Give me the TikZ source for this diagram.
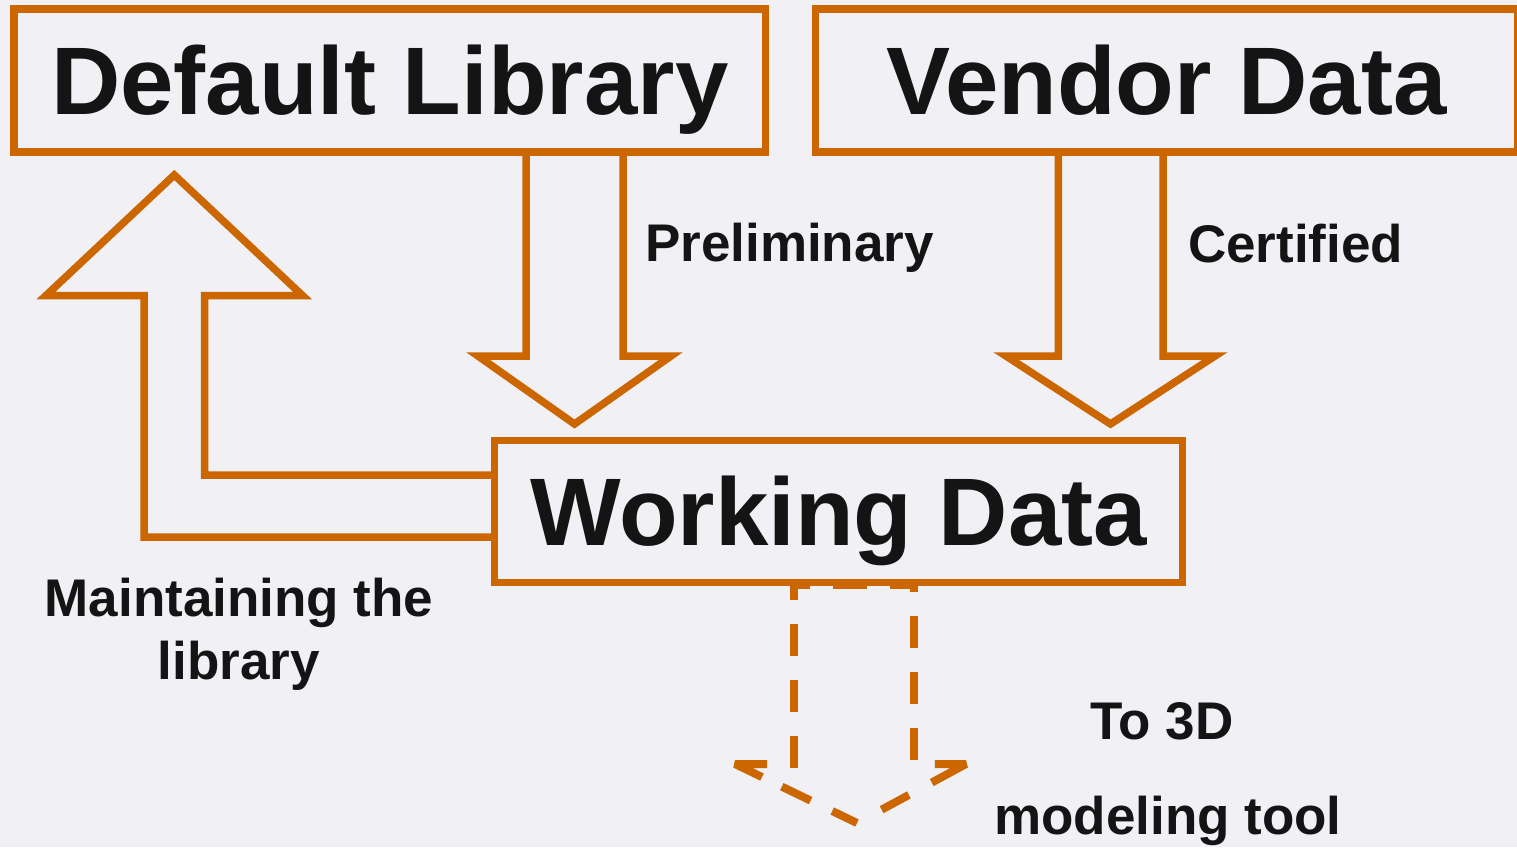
\documentclass[tikz,border=0pt]{standalone}
\usepackage{fontspec}
\setmainfont{Liberation Sans}
\usetikzlibrary{calc}
\definecolor{bgc}{RGB}{240,240,245}
\definecolor{orng}{RGB}{204,102,0}
\definecolor{ink}{RGB}{20,20,20}
\begin{document}
\begin{tikzpicture}[x=1pt,y=-1pt,
  box/.style={draw=orng, line width=7.5pt, inner sep=0pt, outer sep=0pt, text=ink,
    font=\bfseries\fontsize{96}{96}\selectfont, text height=68.7pt, text depth=0pt},
  blockarrow/.style={draw=orng, line width=7.5pt, line join=miter},
  dashline/.style={draw=orng, line width=8pt, line join=bevel},
  lbl/.style={text=ink, font=\bfseries\fontsize{53}{63}\selectfont, inner sep=0pt}]
\fill[bgc] (0,0) rectangle (1517,847);
\useasboundingbox (0,0) rectangle (1517,847);

% dashed arrow to 3D tool (drawn piece by piece to place its dashes)
\coordinate (dtl) at (794,584.5);
\coordinate (dtr) at (914,584.5);
\coordinate (dlc) at (735,764);
\coordinate (drc) at (966,764);
\coordinate (dtip) at (857,823);
\draw[dashline, dash pattern=on 16pt off 23pt on 34pt off 23pt on 40pt] (dtl) -- (dtr);
\draw[dashline, dash pattern=on 32pt off 24pt, dash phase=16.5pt] (dtl) -- (794,768);
\draw[dashline, dash pattern=on 62pt off 22pt on 32pt off 24pt on 30pt off 30pt] (767,764) -- (dlc) -- (dtip);
\draw[dashline, dash pattern=on 31pt off 26pt on 70pt off 30pt, dash phase=129pt] (dtip) -- (drc) -- (914,764);
\draw[dashline, dash pattern=on 32pt off 24pt, dash phase=24.5pt] (dtr) -- (914,768);

% boxes
\node[box, minimum width=751.5pt, minimum height=143pt] (dl) at (389.75,80.5) {Default Library};
\node[box, minimum width=702pt, minimum height=143pt] (vd) at (1166.5,80.5) {Vendor Data};
\node[box, minimum width=687.8pt, minimum height=142pt] (wd) at (838.6,511.5) {Working Data};

% Preliminary arrow
\draw[blockarrow] (526,0 |- dl.south) -- (526,356) -- (478,356) -- (574.5,424) -- (671,356) -- (623,356) -- (623,0 |- dl.south);
% Certified arrow
\draw[blockarrow] (1058.3,0 |- vd.south) -- (1058.3,356) -- (1006,356) -- (1110.5,424) -- (1215,356) -- (1163,356) -- (1163,0 |- vd.south);
% Maintaining arrow (up)
\draw[blockarrow] (wd.west |- 0,475) -- (204.7,475) -- (204.7,295.5) -- (302.5,295.5) -- (174.3,175) -- (46,295.5) -- (144,295.5) -- (144,537) -- (wd.west |- 0,537);

% labels
\node[lbl, anchor=base west] (pre) at (645,261.7) {Preliminary};
\node[lbl, anchor=base west] (cer) at (1188,262) {Certified};
\node[lbl, align=center] (mtl) at (239,634.1) {Maintaining the\\library};
\node[lbl, align=center, font=\bfseries\fontsize{53}{95}\selectfont] (t3d) at (1162,774.1) {To 3D\\\hspace*{12pt}modeling tool};
\end{tikzpicture}
\end{document}
